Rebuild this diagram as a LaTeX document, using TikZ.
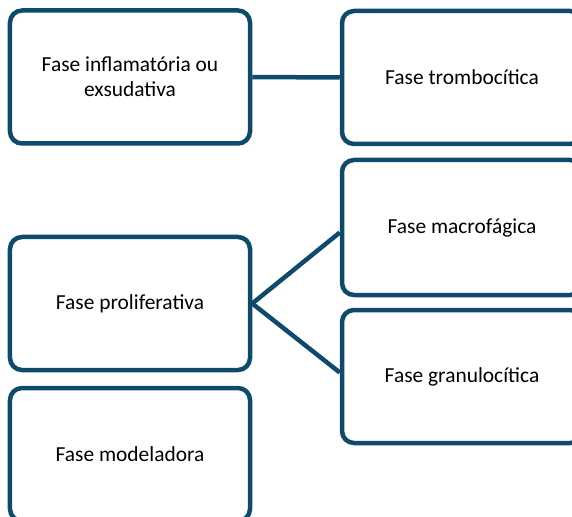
\documentclass[tikz,border=0pt]{standalone}
\usepackage{fontspec}
\setmainfont{Carlito}
\usepackage{tikz}
\usetikzlibrary{positioning,calc}
\definecolor{fasebor}{RGB}{14,74,108}

\begin{document}
\begin{tikzpicture}
[x=1bp,y=-1bp,
fase/.style={draw=fasebor,line width=4.5bp,rounded corners=12bp,fill=white,
  minimum width=240bp,minimum height=133bp,align=center,font=\fontsize{21.5}{25}\selectfont},
liga/.style={draw=fasebor,line width=4.5bp}]
\useasboundingbox (0,0) rectangle (572,517);
\clip (0,0) rectangle (572,517);
\draw (130,77) node[fase] (infl) {Fase inflamatória ou\\exsudativa};
\draw (462,77.5) node[fase] (tromb) {Fase trombocítica};
\draw (462,227.5) node[fase,minimum height=135bp] (macro) {Fase macrofágica};
\draw (130,303.5) node[fase] (prol) {Fase proliferativa};
\draw (462,376.5) node[fase] (granu) {Fase granulocítica};
\draw (130,454.5) node[fase] (model) {Fase modeladora};
\draw[liga](infl.east)--(tromb.west);
\draw[liga](prol.east)--([yshift=-5bp]macro.west);
\draw[liga](prol.east)--([yshift=4bp]granu.west);
\end{tikzpicture}
\end{document}
